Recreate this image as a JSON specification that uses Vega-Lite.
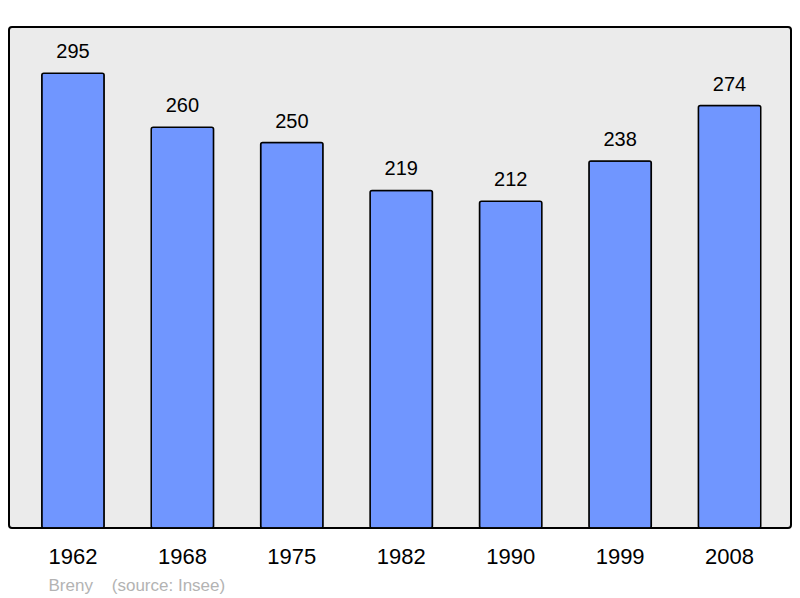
{
  "$schema": "https://vega.github.io/schema/vega-lite/v6.json",
  "width": 782,
  "height": 501,
  "autosize": {"type": "none"},
  "padding": {"left": 9, "top": 27, "right": 9, "bottom": 70},
  "background": "white",
  "config": {
    "view": {"fill": "#ebebeb", "stroke": "black", "strokeWidth": 2, "cornerRadius": 3},
    "font": "Liberation Sans"
  },
  "data": {
    "values": [
      {"year": "1962", "pop": 295},
      {"year": "1968", "pop": 260},
      {"year": "1975", "pop": 250},
      {"year": "1982", "pop": 219},
      {"year": "1990", "pop": 212},
      {"year": "1999", "pop": 238},
      {"year": "2008", "pop": 274}
    ]
  },
  "encoding": {
    "x": {
      "field": "year",
      "type": "ordinal",
      "scale": {"paddingInner": 0.43, "paddingOuter": 0.288, "align": 0.52},
      "axis": {
        "title": "Breny\u00a0\u00a0\u00a0\u00a0(source: Insee)",
        "titleFont": "Liberation Sans",
        "titleFontSize": 17,
        "titleFontWeight": "normal",
        "titleColor": "#b3b3b3",
        "titleAnchor": "start",
        "titleAlign": "left",
        "titleBaseline": "alphabetic",
        "titleX": 39,
        "titleY": 62,
        "labelAngle": 0,
        "labelFontSize": 22,
        "labelColor": "black",
        "labelPadding": 18,
        "domain": false,
        "ticks": false,
        "grid": false
      }
    },
    "y": {
      "field": "pop",
      "type": "quantitative",
      "scale": {"domain": [0, 325], "nice": false},
      "axis": null
    }
  },
  "layer": [
    {
      "mark": {"type": "bar", "fill": "#7096ff", "stroke": "black", "strokeWidth": 1.5, "cornerRadius": 2}
    },
    {
      "mark": {"type": "text", "dy": -11, "baseline": "bottom", "fontSize": 20, "color": "black"},
      "encoding": {"text": {"field": "pop", "type": "quantitative"}}
    }
  ]
}
